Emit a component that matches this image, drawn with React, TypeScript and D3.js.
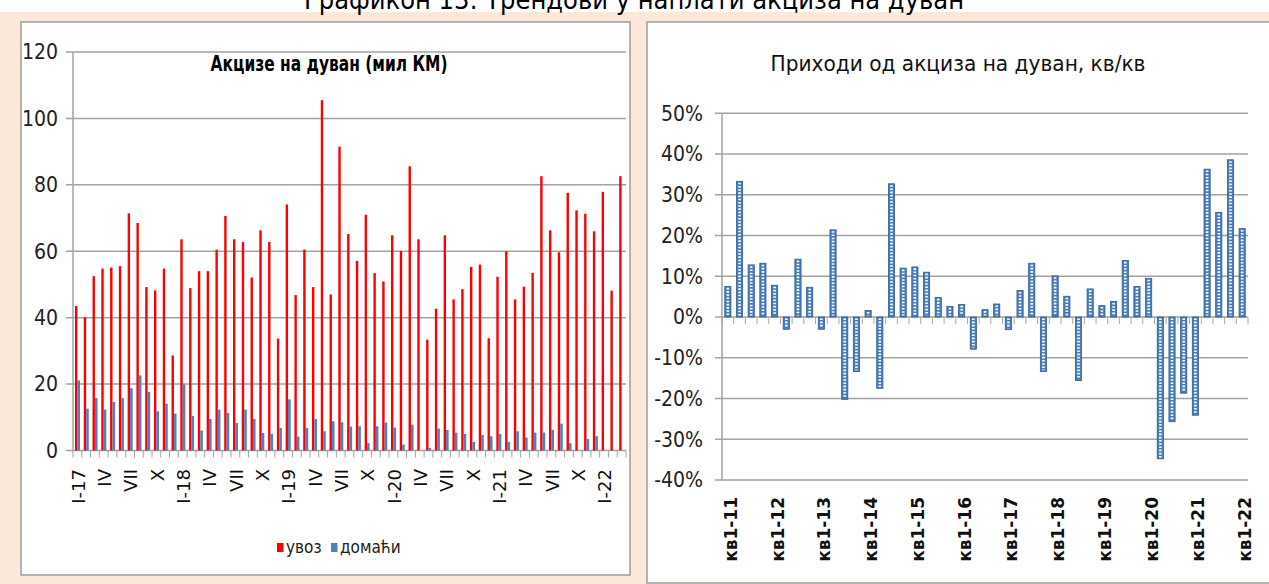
import { useEffect, useRef } from "react"
import * as d3 from "d3"

const W = 1269
const H = 584

// lijevi grafikon: mjesečno, I-17 .. III-22
const romans = ["I", "II", "III", "IV", "V", "VI", "VII", "VIII", "IX", "X", "XI", "XII"]
const monthYears = ["17", "18", "19", "20", "21", "22"]
const months = monthYears.flatMap(y => romans.map((r, i) => (i === 0 ? `${r}-${y}` : `${r}/${y}`))).slice(0, 63)

const importExcise = [
    43.5, 40.2, 52.5, 54.8, 55.1, 55.5, 71.4, 68.5, 49.2, 48.2,
    54.8, 28.6, 63.6, 48.9, 54, 54, 60.5, 70.6, 63.6, 62.8,
    52.1, 66.3, 62.8, 33.7, 74.1, 46.8, 60.5, 49.2, 105.5, 47,
    91.5, 65.2, 57.1, 71, 53.4, 50.9, 64.8, 60.1, 85.6, 63.6,
    33.4, 42.7, 64.8, 45.5, 48.6, 55.3, 56, 33.8, 52.3, 60,
    45.5, 49.3, 53.5, 82.6, 66.3, 59.7, 77.6, 72.3, 71.3, 66,
    77.9, 48.1, 82.6,
]
const domesticExcise = [
    21.1, 12.6, 15.8, 12.3, 14.6, 15.8, 18.8, 22.6, 17.6, 11.8,
    14.1, 11.1, 19.9, 10.4, 6.0, 9.5, 12.3, 11.3, 8.3, 12.3,
    9.5, 5.3, 5.0, 6.8, 15.4, 4.2, 6.8, 9.5, 5.8, 8.8,
    8.5, 7.2, 7.3, 2.2, 7.3, 8.4, 6.9, 1.8, 7.8, 0,
    0.8, 6.6, 6.2, 5.4, 5.0, 2.6, 4.7, 4.3, 5.0, 2.6,
    5.8, 3.9, 5.4, 5.4, 6.2, 8.1, 2.2, 0, 3.5, 4.3,
    0, 0, 0,
]
const leftTicks = [0, 20, 40, 60, 80, 100, 120]

// desni grafikon: kvartalno, кв1-11 .. кв1-22
const quarterYears = ["11", "12", "13", "14", "15", "16", "17", "18", "19", "20", "21", "22"]
const quarters = quarterYears.flatMap(y => [1, 2, 3, 4].map(q => `кв${q}-${y}`)).slice(0, 45)
const qoqChange = [
    7.5, 33.3, 12.8, 13.2, 7.8, -3, 14.2, 7.3, -3, 21.4,
    -20.2, -13.4, 1.6, -17.5, 32.7, 12, 12.3, 11, 4.8, 2.6,
    3.1, -7.9, 1.8, 3.2, -3.1, 6.5, 13.2, -13.4, 10.1, 5.1,
    -15.6, 6.9, 2.8, 3.8, 13.9, 7.5, 9.5, -34.8, -25.7, -18.7,
    -24.1, 36.3, 25.7, 38.6, 21.7,
]
const rightTicks = [-40, -30, -20, -10, 0, 10, 20, 30, 40, 50]

const NARROW = "'Liberation Sans Narrow', 'Arial Narrow', 'DejaVu Sans Condensed', 'Open Sans', sans-serif"
const GRID = "#a3a3a3"

export default function App() {
    const ref = useRef<SVGSVGElement | null>(null)

    useEffect(() => {
        const svg = d3.select(ref.current)
        svg.selectAll("*").remove()

        // pozadina
        svg.append("rect").attr("width", W).attr("height", H).attr("fill", "#fbe8da")
        svg.append("rect").attr("width", W).attr("height", 12).attr("fill", "#ffffff")
        svg.append("text")
            .attr("x", 634).attr("y", 9)
            .attr("text-anchor", "middle")
            .attr("font-family", NARROW)
            .attr("font-size", 26)
            .attr("textLength", 660).attr("lengthAdjust", "spacingAndGlyphs")
            .text("Графикон 13: Трендови у наплати акциза на дуван")

        svg.append("rect").attr("x", 21).attr("y", 22).attr("width", 609).attr("height", 553)
            .attr("fill", "#fff").attr("stroke", "#9c9c9c").attr("stroke-width", 1.5)
        svg.append("rect").attr("x", 647).attr("y", 22).attr("width", 640).attr("height", 561)
            .attr("fill", "#fff").attr("stroke", "#9c9c9c").attr("stroke-width", 1.5)

        // ---- lijevi
        const L = svg.append("g")
        const x = d3.scaleBand().domain(months).range([73, 626]).padding(0)
        const y = d3.scaleLinear().domain([0, 120]).range([450.5, 52])

        L.selectAll(".grid").data(leftTicks).join("line")
            .attr("x1", 66).attr("x2", 626)
            .attr("y1", d => y(d)).attr("y2", d => y(d))
            .attr("stroke", GRID).attr("stroke-width", 1.5)
        L.append("line").attr("x1", 73).attr("x2", 73).attr("y1", y(120)).attr("y2", y(0))
            .attr("stroke", GRID).attr("stroke-width", 1.5)
        L.selectAll(".yl").data(leftTicks).join("text")
            .attr("x", 58).attr("y", d => y(d)).attr("dy", "0.35em")
            .attr("text-anchor", "end")
            .attr("font-family", NARROW).attr("font-size", 21).attr("fill", "#222")
            .text(d => d)
        L.selectAll(".xt").data(d3.range(months.length + 1)).join("line")
            .attr("x1", i => 73 + i * x.step()).attr("x2", i => 73 + i * x.step())
            .attr("y1", y(0)).attr("y2", y(0) + 7)
            .attr("stroke", GRID).attr("stroke-width", 1)

        const cx = (m: string) => (x(m) ?? 0) + x.bandwidth() / 2
        L.selectAll(".red").data(importExcise).join("rect")
            .attr("x", (d, i) => cx(months[i]) - 2.4).attr("width", 2.4)
            .attr("y", d => y(d)).attr("height", d => y(0) - y(d))
            .attr("fill", "#ff0000")
        L.selectAll(".blue").data(domesticExcise).join("rect")
            .attr("x", (d, i) => cx(months[i])).attr("width", 2.6)
            .attr("y", d => y(d)).attr("height", d => y(0) - y(d))
            .attr("fill", "#4f81bd")

        L.selectAll(".xl").data(months.filter((m, i) => i % 3 === 0)).join("text")
            .attr("transform", m => `translate(${cx(m) + 1},469) rotate(-90)`)
            .attr("dy", "0.35em")
            .attr("text-anchor", "end")
            .attr("font-family", "'DejaVu Sans', sans-serif").attr("font-size", 18).attr("fill", "#111")
            .text(m => m.split("/")[0])

        L.append("text")
            .attr("x", 329).attr("y", 71).attr("text-anchor", "middle")
            .attr("font-family", NARROW).attr("font-size", 21).attr("font-weight", 700)
            .attr("textLength", 237).attr("lengthAdjust", "spacingAndGlyphs")
            .text("Акцизе на дуван (мил КМ)")

        const legend = [
            { label: "увоз", color: "#ff0000", x: 277 },
            { label: "домаћи", color: "#4f81bd", x: 331 },
        ]
        const lg = L.selectAll(".lg").data(legend).join("g")
            .attr("transform", d => `translate(${d.x},543)`)
        lg.append("rect").attr("width", 6.5).attr("height", 9).attr("fill", d => d.color)
        lg.append("text").attr("x", 9).attr("y", 10)
            .attr("font-family", NARROW).attr("font-size", 17).attr("fill", "#222")
            .text(d => d.label)

        // ---- desni
        const R = svg.append("g")
        const qx = d3.scaleBand().domain(quarters).range([722, 1248]).padding(0)
        const qy = d3.scaleLinear().domain([-40, 50]).range([480, 113.3])

        R.selectAll(".grid").data(rightTicks).join("line")
            .attr("x1", 715).attr("x2", 1248)
            .attr("y1", d => qy(d)).attr("y2", d => qy(d))
            .attr("stroke", GRID).attr("stroke-width", 1.5)
        R.append("line").attr("x1", 722).attr("x2", 722).attr("y1", qy(50)).attr("y2", qy(-40))
            .attr("stroke", GRID).attr("stroke-width", 1.5)
        R.selectAll(".yl").data(rightTicks).join("text")
            .attr("x", 703).attr("y", d => qy(d)).attr("dy", "0.35em")
            .attr("text-anchor", "end")
            .attr("font-family", NARROW).attr("font-size", 21).attr("fill", "#222")
            .text(d => `${d}%`)
        R.selectAll(".xt").data(d3.range(quarters.length + 1)).join("line")
            .attr("x1", i => 722 + i * qx.step()).attr("x2", i => 722 + i * qx.step())
            .attr("y1", qy(0)).attr("y2", qy(0) + 7)
            .attr("stroke", "#b0a890").attr("stroke-width", 1)

        const qcx = (q: string) => (qx(q) ?? 0) + qx.bandwidth() / 2
        const bw = 6.2
        const bars = R.selectAll(".bar").data(qoqChange).join("g")
        bars.append("rect")
            .attr("x", (d, i) => qcx(quarters[i]) - bw / 2).attr("width", bw)
            .attr("y", d => qy(Math.max(0, d))).attr("height", d => Math.abs(qy(d) - qy(0)))
            .attr("fill", "#4a7ebb").attr("stroke", "#2e5f9c").attr("stroke-width", 0.8)
        bars.append("line")
            .attr("x1", (d, i) => qcx(quarters[i])).attr("x2", (d, i) => qcx(quarters[i]))
            .attr("y1", d => qy(Math.max(0, d)) + 1.4)
            .attr("y2", d => qy(Math.min(0, d)) - 1.4)
            .attr("stroke", "#ffffff").attr("stroke-width", 2.6)
            .attr("stroke-dasharray", "1.6 1.6")

        R.selectAll(".xl").data(quarters.filter((q, i) => i % 4 === 0)).join("text")
            .attr("transform", q => `translate(${qcx(q) + 3},497) rotate(-90)`)
            .attr("dy", "0.35em")
            .attr("text-anchor", "end")
            .attr("font-family", "'DejaVu Sans', sans-serif").attr("font-size", 17)
            .attr("font-weight", 700).attr("fill", "#111")
            .text(q => q)

        R.append("text")
            .attr("x", 958).attr("y", 71).attr("text-anchor", "middle")
            .attr("font-family", NARROW).attr("font-size", 22).attr("fill", "#111")
            .attr("textLength", 375).attr("lengthAdjust", "spacingAndGlyphs")
            .text("Приходи од акциза на дуван, кв/кв")
    }, [])

    return (
        <div style={{ position: "fixed", left: 0, top: 0 }}>
            <svg ref={ref} width={W} height={H} style={{ display: "block" }} />
        </div>
    )
}
